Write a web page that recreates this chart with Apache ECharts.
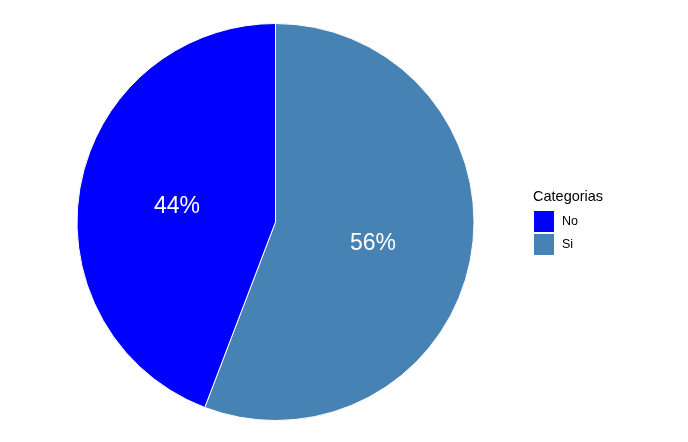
<!DOCTYPE html>
<html>
<head>
<meta charset="utf-8">
<script src="https://cdn.jsdelivr.net/npm/echarts@6/dist/echarts.min.js"></script>
<style>
html,body{margin:0;padding:0;background:#fff;}
#chart{width:688px;height:442px;}
</style>
</head>
<body>
<div id="chart"></div>
<script>
const categories = ['Si', 'No'];
const values = [55.8, 44.2];
const legendOrder = ['No', 'Si'];
const colorMap = { No: '#0000FF', Si: '#4682B4' };
const labelNudge = { Si: [-3, 3], No: [2, 3] };
const legendTitle = 'Categorias';

const chart = echarts.init(document.getElementById('chart'), null, { renderer: 'canvas' });
const FONT = '"Liberation Sans", Arial, sans-serif';

chart.setOption({
  animation: false,
  backgroundColor: '#ffffff',
  title: {
    text: legendTitle,
    left: 533,
    top: 189,
    padding: 0,
    textStyle: { fontFamily: FONT, fontSize: 14.5, fontWeight: 'normal', color: '#000' }
  },
  legend: {
    data: legendOrder,
    orient: 'vertical',
    left: 534,
    top: 211,
    padding: 0,
    icon: 'rect',
    itemWidth: 20,
    itemHeight: 21,
    itemGap: 2,
    itemStyle: { borderWidth: 0 },
    selectedMode: false,
    textStyle: { fontFamily: FONT, fontSize: 12.5, color: '#000', padding: [0, 0, 0, 3] }
  },
  series: [{
    type: 'pie',
    center: [275.5, 222],
    radius: 198.5,
    startAngle: 90,
    clockwise: true,
    silent: true,
    itemStyle: { borderColor: '#ffffff', borderWidth: 1 },
    label: {
      show: true,
      position: 'inside',
      formatter: p => Math.round(p.value) + '%',
      color: '#ffffff',
      fontFamily: FONT,
      fontSize: 23
    },
    labelLine: { show: false },
    data: categories.map((c, i) => ({
      name: c,
      value: values[i],
      itemStyle: { color: colorMap[c] },
      label: { offset: labelNudge[c] }
    }))
  }]
});
</script>
</body>
</html>
